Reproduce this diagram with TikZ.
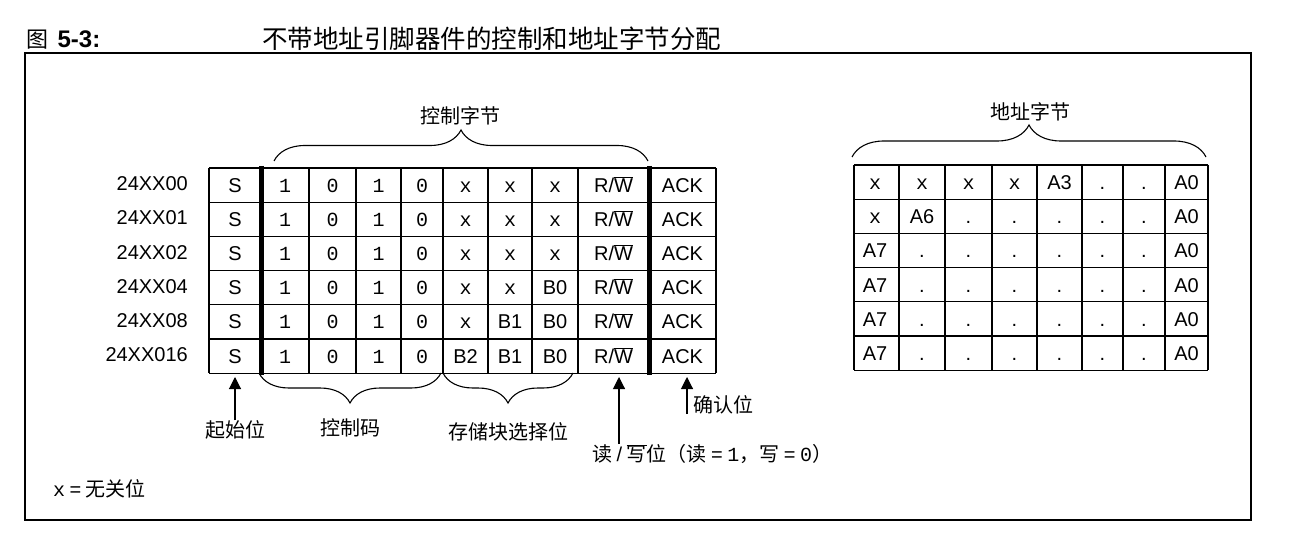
\documentclass[tikz,border=0pt]{standalone}
\usepackage{fontspec}
\setmainfont{Liberation Sans}
\setmonofont{Liberation Mono}
\newfontfamily\cjk{Noto Sans CJK SC}
\usetikzlibrary{positioning,arrows.meta,decorations.pathreplacing,calc}
\newcommand\bitv[1]{\texttt{#1}}
\newcommand\rwbar{R/$\overline{\mbox{W}}$}

\begin{document}
\begin{tikzpicture}[x=1pt, y=-1pt,
  cell/.style={font=\fontsize{20}{20}\selectfont, inner sep=0pt, anchor=base},
  devlbl/.style={font=\fontsize{20}{20}\selectfont, inner sep=0pt, anchor=base east},
  lbl/.style={font=\cjk\fontsize{20}{20}\selectfont, inner sep=0pt},
  gridln/.style={line width=1.2pt},
  sepbar/.style={line width=5pt},
  brc/.style={decorate, decoration={brace, amplitude=#1}, line width=1.1pt},
  pointer/.style={-{Triangle[width=12pt,length=12pt]}, line width=1.1pt},
]
  \useasboundingbox (0,0) rectangle (1289,545);

  % Title and frame
  \node[font=\cjk\fontsize{22}{22}\selectfont, anchor=base west, inner sep=0pt] (fig) at (26,48) {图};
  \node[font=\bfseries\fontsize{24}{24}\selectfont, inner sep=0pt, right=9 of fig.base east, anchor=base west] (fignum) {5-3:};
  \node[font=\cjk\fontsize{25.5}{25.5}\selectfont, anchor=base west, inner sep=0pt] (title) at (262,49)
    {不带地址引脚器件的控制和地址字节分配};
  \draw[line width=1.5pt] (25,53) rectangle (1251,520);

  % Control byte table: grid
  \foreach \gx in {209,309,356,401,443,488,532,578,716}
    \draw[gridln] (\gx,168) -- (\gx,373);
  \foreach \gy in {168,202.2,236.4,270.6,304.8,339,373.2}
    \draw[gridln] (209,\gy) -- (716,\gy);
  \draw[sepbar] (261,166) -- (261,375);
  \draw[sepbar] (649,166) -- (649,375);

  % Control byte table: device names and cells
  \foreach \dev [count=\r] in {24XX00,24XX01,24XX02,24XX04,24XX08,24XX016}
    \node[devlbl] (dev\r) at (188, {156.4+34.2*\r}) {\dev};
  \foreach \row [count=\r] in {
      {S,\bitv1,\bitv0,\bitv1,\bitv0,\bitv x,\bitv x,\bitv x,\rwbar,ACK},
      {S,\bitv1,\bitv0,\bitv1,\bitv0,\bitv x,\bitv x,\bitv x,\rwbar,ACK},
      {S,\bitv1,\bitv0,\bitv1,\bitv0,\bitv x,\bitv x,\bitv x,\rwbar,ACK},
      {S,\bitv1,\bitv0,\bitv1,\bitv0,\bitv x,\bitv x,B0,\rwbar,ACK},
      {S,\bitv1,\bitv0,\bitv1,\bitv0,\bitv x,B1,B0,\rwbar,ACK},
      {S,\bitv1,\bitv0,\bitv1,\bitv0,B2,B1,B0,\rwbar,ACK}}
    \foreach \txt [count=\c] in \row {
      \pgfmathsetmacro\cx{{235,285,332.5,378.5,422,465.5,510,555,613.5,682.5}[\c-1]}
      \node[cell] (ctl\r-\c) at (\cx, {157.9+34.2*\r}) {\txt};
    }

  % Address byte table
  \foreach \gx in {854,899,945,992,1037,1082,1123,1165,1208}
    \draw[gridln] (\gx,165) -- (\gx,370.2);
  \foreach \gy in {165,199.2,233.4,267.6,301.8,336,370.2}
    \draw[gridln] (854,\gy) -- (1208,\gy);
  \foreach \row [count=\r] in {
      {\bitv x,\bitv x,\bitv x,\bitv x,A3,.,.,A0},
      {\bitv x,A6,.,.,.,.,.,A0},
      {A7,.,.,.,.,.,.,A0},
      {A7,.,.,.,.,.,.,A0},
      {A7,.,.,.,.,.,.,A0},
      {A7,.,.,.,.,.,.,A0}}
    \foreach \txt [count=\c] in \row {
      \pgfmathsetmacro\cx{{875,922,968.5,1014.5,1059.5,1102.5,1144,1186.5}[\c-1]}
      \node[cell] (adr\r-\c) at (\cx, {155.4+34.2*\r}) {\txt};
    }

  % Braces and their labels
  \draw[brc=31pt] (274,161) -- (648,161);
  \node[lbl] (ctlbyte) at (460,116) {控制字节};
  \draw[brc=32pt] (852,157) -- (1206,157);
  \node[lbl] (adrbyte) at (1030,112) {地址字节};
  \draw[brc=30pt] (441,373) -- (259,373);
  \node[lbl] (ctlcode) at (350,428) {控制码};
  \draw[brc=30pt] (573,373) -- (443,373);
  \node[lbl] (banksel) at (508,432) {存储块选择位};

  % Pointers
  \node[lbl] (start) at (235,430) {起始位};
  \coordinate (starttip) at (235,377);
  \draw[pointer] (start.north) -- (starttip);

  \node[lbl, anchor=north west] (rwlbl) at (592,444)
    {读~{\rmfamily/}~$\overline{\hbox{\cjk 写}}$位（读~{\rmfamily=}~\bitv{1}，写~{\rmfamily=}~\bitv{0}）};
  \coordinate (rwtip) at (619,377);
  \draw[pointer] (rwtip |- rwlbl.north) -- (rwtip);

  \node[lbl, anchor=west] (ack) at (693,405) {确认位};
  \coordinate (acktip) at (687,377);
  \coordinate (ackfoot) at (687,414);
  \draw[pointer] (ackfoot) -- (acktip);

  % Legend
  \node[lbl, anchor=west] (legend) at (53,489) {\bitv{x}~{\rmfamily=}~无关位};
\end{tikzpicture}
\end{document}
